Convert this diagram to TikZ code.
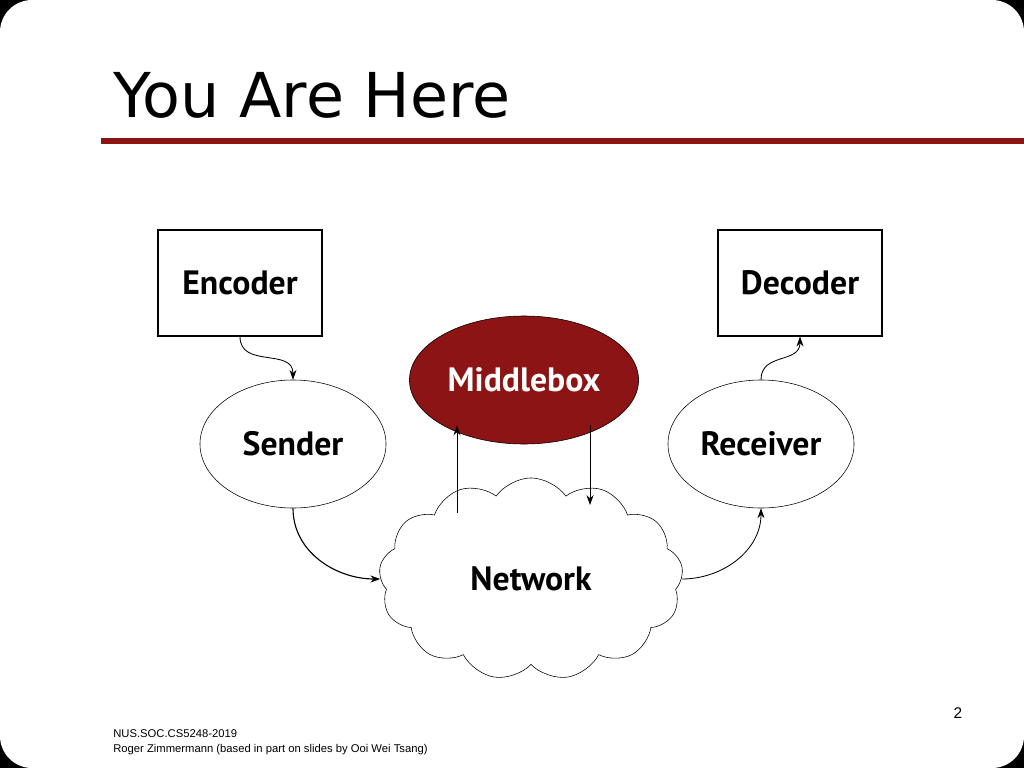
\documentclass[tikz,border=0pt]{standalone}
\usepackage{fontspec}
\setmainfont{DejaVu Sans}
\newfontfamily\labelfont{PT Sans}
\newfontfamily\footfont{Liberation Sans}
\usetikzlibrary{shapes.geometric,shapes.symbols,arrows.meta}
\definecolor{slidered}{RGB}{140,20,20}
\tikzset{
  box/.style={draw,thick,minimum width=4.1cm,minimum height=2.65cm,font=\labelfont\bfseries\fontsize{24}{28}\selectfont},
  blob/.style={ellipse,draw,minimum width=4.65cm,minimum height=3.2cm,font=\labelfont\bfseries\fontsize{24}{28}\selectfont},
  link/.style={-{Stealth[length=7pt,width=5pt]},semithick}
}
\begin{document}
\begin{tikzpicture}[x=0.025cm,y=-0.025cm]
\fill[black] (0,0) rectangle (1024,768);
\fill[white,rounded corners=0.8cm] (0,0) rectangle (1024,768);
\useasboundingbox (0,0) rectangle (1024,768);
% title
\node[anchor=base west,inner sep=0,font=\fontsize{44}{50}\selectfont] (title) at (113,118) {You Are Here};
\fill[slidered] (101,138) rectangle (1024,144);
% boxes
\node[box] (Enc) at (240,283){Encoder};
\node[box] (Dec) at (800,283){Decoder};
\node[blob,fill=slidered,text=white] (Mid) at (524,380){Middlebox};
\node[blob] (Snd) at (293,444){Sender};
\node[blob] (Rcv) at (761,444){Receiver};
\node[cloud,draw,cloud puffs=13,cloud puff arc=110,minimum width=7.6cm,minimum height=4.3cm,font=\labelfont\bfseries\fontsize{24}{28}\selectfont] (Net) at (531,579){Network};
% connectors
\draw[link] (Enc.south) to[out=-90,in=90,looseness=1.2] (Snd.north);
\draw[link] (Rcv.north) to[out=90,in=-90,looseness=1.2] (Dec.south);
\draw[link,thick] (Snd.south) to[out=-90,in=180] (Net.west);
\draw[link] (Net.east) to[out=0,in=-90] (Rcv.south);
\coordinate (up) at (457,513);
\coordinate (dn) at (590,505);
\draw[link] (up) -- (up |- Mid.south west);
\draw[link] (dn |- Mid.south east) -- (dn);
% footer
\node[anchor=base,font=\footfont\fontsize{11}{13}\selectfont] (page) at (958,718) {2};
\node[anchor=north west,align=left,inner sep=0,font=\footfont\fontsize{8}{11}\selectfont] (foot) at (113,729) {NUS.SOC.CS5248-2019\\Roger Zimmermann (based in part on slides by Ooi Wei Tsang)};
\end{tikzpicture}
\end{document}
